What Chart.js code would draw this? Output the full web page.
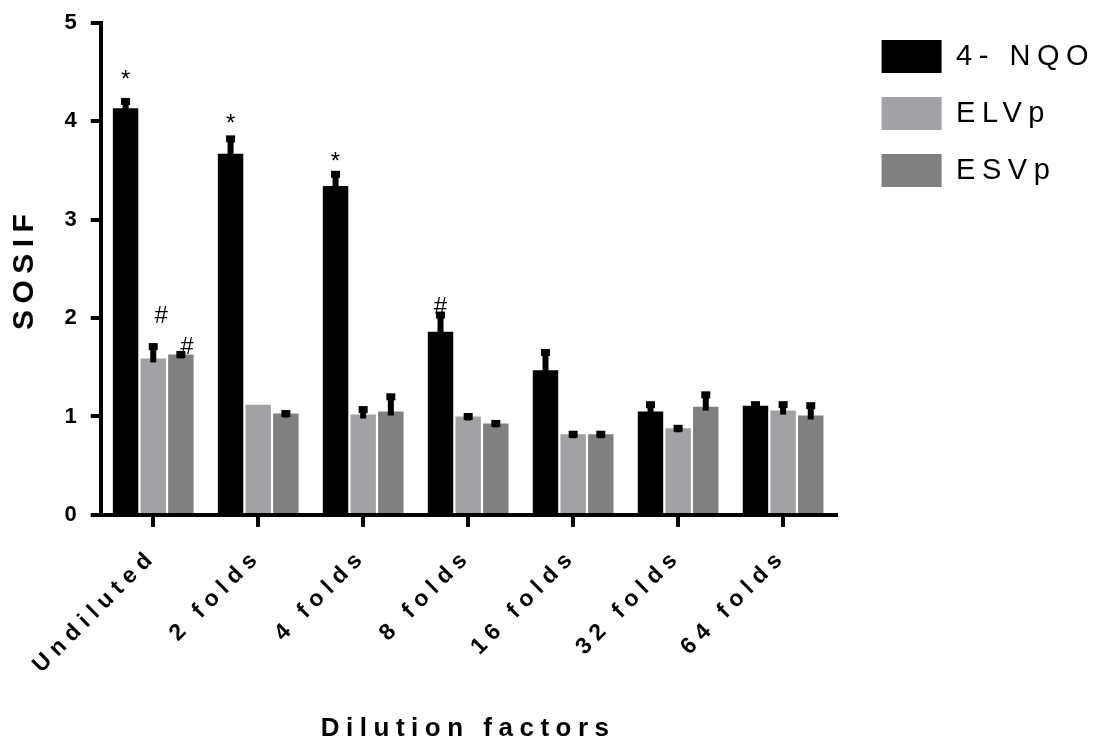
<!DOCTYPE html>
<html>
<head>
<meta charset="utf-8">
<script src="https://cdn.jsdelivr.net/npm/chart.js@4.4.0/dist/chart.umd.min.js"></script>
<style>
  html, body { margin: 0; padding: 0; background: #fff; }
</style>
</head>
<body>
<canvas id="myChart" width="1095" height="742"></canvas>
<script>
// values
var categories = ['Undiluted', '2 folds', '4 folds', '8 folds', '16 folds', '32 folds', '64 folds'];
var nqo     = [4.13, 3.67, 3.34, 1.86, 1.47, 1.05, 1.11];
var elvp    = [1.59, 1.12, 1.02, 1.00, 0.82, 0.88, 1.06];
var esvp    = [1.63, 1.03, 1.05, 0.93, 0.82, 1.10, 1.01];
var nqoErr  = [0.07, 0.15, 0.12, 0.17, 0.18, 0.07, 0.01];
var elvpErr = [0.12, null, 0.05, 0, 0, 0, 0.06];
var esvpErr = [0, 0, 0.15, 0, 0, 0.12, 0.10];
var yTicks  = [0, 1, 2, 3, 4, 5];

// significance marks: series index, category index, y (data units), nudge in px
var marks = [
  {text: '*', series: 0, index: 0, y: 4.49, dx: 0},
  {text: '*', series: 0, index: 1, y: 4.04, dx: 0},
  {text: '*', series: 0, index: 2, y: 3.65, dx: 0},
  {text: '#', series: 1, index: 0, y: 2.04, dx: 8},
  {text: '#', series: 2, index: 0, y: 1.72, dx: 6},
  {text: '#', series: 0, index: 3, y: 2.13, dx: 0}
];

Chart.defaults.font.family = "'Liberation Sans', Arial, sans-serif";
Chart.defaults.color = '#000';

// letter spaced text like the original export
var spacing = {
  id: 'spacing',
  beforeLayout: function(c) { c.ctx.letterSpacing = '6.5px'; },
  beforeDraw: function(c) { c.ctx.letterSpacing = '6.5px'; }
};

var errorBars = {
  id: 'errorBars',
  afterDatasetsDraw: function(c) {
    var ctx = c.ctx, y = c.scales.y;
    c.data.datasets.forEach(function(ds, i) {
      c.getDatasetMeta(i).data.forEach(function(bar, j) {
        var e = ds.err[j];
        if (e === null) return;
        var top = y.getPixelForValue(ds.data[j] + e);
        ctx.save();
        ctx.fillStyle = '#000';
        ctx.fillRect(bar.x - 3, top, 6, bar.y + 4 - top);
        ctx.fillRect(bar.x - 4.5, top - 3.5, 9, 7);
        ctx.restore();
      });
    });
  }
};

var sigMarks = {
  id: 'sigMarks',
  afterDatasetsDraw: function(c) {
    var ctx = c.ctx, y = c.scales.y;
    ctx.save();
    ctx.letterSpacing = '0px';
    ctx.fillStyle = '#000';
    ctx.textAlign = 'center';
    ctx.textBaseline = 'alphabetic';
    ctx.font = "24px 'Liberation Sans', Arial, sans-serif";
    marks.forEach(function(m) {
      var bar = c.getDatasetMeta(m.series).data[m.index];
      var k = m.text === '*' ? 0.57 : 0.36;
      ctx.fillText(m.text, bar.x + m.dx, y.getPixelForValue(m.y) + k * 24);
    });
    ctx.restore();
  }
};

var ctx = document.getElementById('myChart').getContext('2d');
var chart = new Chart(ctx, {
  type: 'bar',
  data: {
    labels: categories,
    datasets: [
      {label: '4- NQO', data: nqo,  err: nqoErr,  backgroundColor: '#000000'},
      {label: 'ELVp',   data: elvp, err: elvpErr, backgroundColor: '#a2a2a6'},
      {label: 'ESVp',   data: esvp, err: esvpErr, backgroundColor: '#808080'}
    ]
  },
  options: {
    responsive: false,
    animation: false,
    devicePixelRatio: 1,
    categoryPercentage: 0.79,
    barPercentage: 0.92,
    layout: {padding: {top: 14.7, right: -10, bottom: -2, left: 2}},
    plugins: {
      tooltip: {enabled: false},
      legend: {
        position: 'right',
        align: 'start',
        maxWidth: 320,
        title: {display: true, text: '', font: {size: 1.3, lineHeight: 1}, padding: 0},
        labels: {
          boxWidth: 60,
          boxHeight: 33,
          padding: 24,
          color: '#000',
          font: {size: 29}
        }
      }
    },
    scales: {
      x: {
        grid: {display: true, drawOnChartArea: false, offset: false, tickLength: 12, lineWidth: 4, color: '#000'},
        border: {display: true, width: 4, color: '#000'},
        ticks: {autoSkip: false, minRotation: 45, maxRotation: 45, padding: 16, color: '#000',
                font: {size: 23, weight: 'bold'}},
        title: {display: true, text: 'Dilution factors', color: '#000',
                font: {size: 26, weight: 'bold'}, padding: {top: 18, bottom: 0}}
      },
      y: {
        min: 0,
        max: 5,
        afterBuildTicks: function(s) { s.ticks = yTicks.map(function(v) { return {value: v}; }); },
        afterFit: function(s) { s.paddingTop = 22.7; },
        grid: {display: true, drawOnChartArea: false, tickLength: 10, lineWidth: 4, color: '#000'},
        border: {display: true, width: 4, color: '#000'},
        ticks: {padding: 7.5, color: '#000', font: {size: 22, weight: 'bold'}},
        title: {display: true, text: 'SOSIF', color: '#000',
                font: {size: 30, weight: 'bold'}, padding: {top: 5, bottom: 14}}
      },
      ySpacer: {
        axis: 'y',
        position: 'right',
        grid: {display: false},
        border: {display: false},
        ticks: {display: false},
        afterFit: function(s) { s.width = 22; }
      }
    }
  },
  plugins: [spacing, errorBars, sigMarks]
});
</script>
</body>
</html>
